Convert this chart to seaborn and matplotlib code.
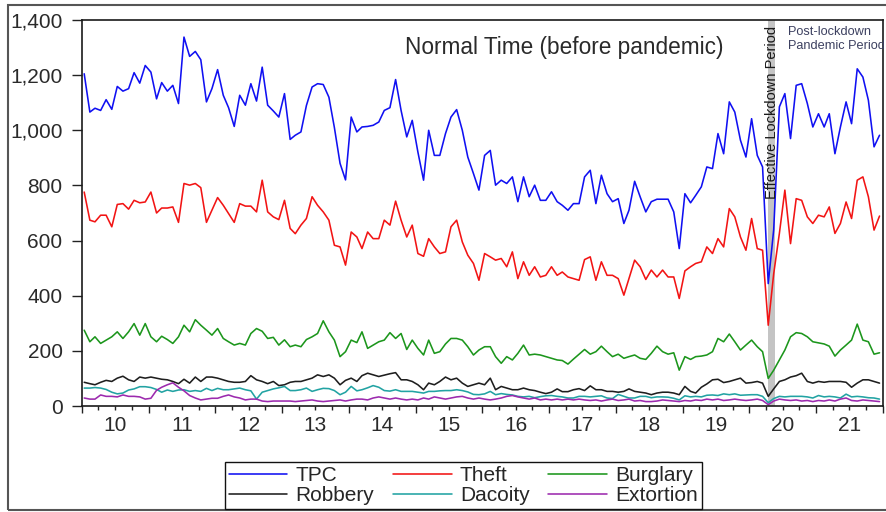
import numpy as np
import pandas as pd
import matplotlib
matplotlib.use("Agg")
import matplotlib.pyplot as plt
import matplotlib.dates as mdates
from matplotlib.ticker import FuncFormatter, NullFormatter
from matplotlib.patches import Rectangle
import seaborn as sns

# Monthly crime counts, Jan 2010 - Dec 2021
months = pd.date_range("2010-01-01", periods=144, freq="MS")

tpc = [1205, 1066, 1080, 1072, 1111, 1076, 1159, 1142, 1151, 1209, 1171, 1235,
       1211, 1114, 1173, 1142, 1163, 1097, 1338, 1268, 1286, 1256, 1103, 1151,
       1220, 1127, 1082, 1014, 1127, 1091, 1169, 1106, 1229, 1091, 1070, 1048,
       1133, 967, 982, 994, 1090, 1157, 1169, 1166, 1120, 1010, 880, 820,
       1048, 994, 1012, 1014, 1018, 1030, 1072, 1082, 1184, 1072, 976, 1036,
       921, 819, 1000, 909, 909, 988, 1048, 1075, 1000, 903, 843, 783,
       909, 927, 801, 819, 807, 831, 741, 831, 759, 801, 746, 746,
       777, 741, 728, 710, 734, 734, 831, 855, 734, 837, 770, 741,
       752, 662, 710, 815, 759, 704, 741, 750, 750, 750, 704, 571,
       770, 737, 764, 795, 867, 861, 988, 915, 1103, 1066, 964, 903,
       1042, 909, 867, 444, 640, 1085, 1133, 970, 1163, 1169, 1097, 1012,
       1060, 1012, 1060, 915, 1012, 1103, 1024, 1223, 1193, 1109, 940, 982]

theft = [776, 674, 668, 692, 692, 650, 731, 734, 714, 746, 737, 740,
         776, 700, 718, 718, 722, 666, 807, 801, 807, 792, 666, 710,
         756, 728, 698, 666, 734, 725, 725, 704, 819, 704, 686, 676,
         746, 644, 625, 656, 680, 759, 728, 704, 674, 583, 577, 511,
         631, 613, 571, 631, 607, 607, 674, 656, 743, 674, 613, 656,
         553, 543, 607, 577, 553, 559, 650, 674, 595, 547, 517, 456,
         553, 541, 529, 535, 505, 559, 462, 523, 474, 505, 468, 474,
         505, 474, 486, 468, 462, 456, 531, 541, 456, 523, 474, 474,
         462, 402, 462, 529, 505, 459, 493, 468, 493, 468, 468, 390,
         490, 505, 517, 523, 577, 553, 607, 577, 716, 686, 613, 565,
         680, 571, 565, 293, 480, 626, 783, 589, 752, 746, 686, 662,
         692, 686, 722, 626, 662, 740, 680, 819, 831, 759, 638, 689]

burglary = [275, 233, 251, 227, 239, 251, 269, 245, 269, 299, 257, 299,
            251, 233, 253, 241, 227, 251, 293, 269, 313, 293, 275, 257,
            281, 245, 233, 221, 227, 221, 263, 281, 271, 245, 249, 221,
            240, 215, 221, 215, 241, 251, 263, 309, 269, 239, 179, 197,
            239, 230, 269, 209, 221, 233, 239, 266, 245, 263, 205, 239,
            209, 185, 239, 191, 197, 225, 245, 245, 239, 215, 185, 203,
            215, 215, 179, 155, 179, 167, 191, 221, 185, 188, 185, 179,
            173, 167, 165, 152, 170, 188, 205, 188, 197, 217, 197, 179,
            188, 173, 179, 185, 173, 169, 191, 217, 197, 188, 193, 130,
            179, 169, 179, 181, 185, 197, 245, 233, 261, 233, 203, 221,
            239, 215, 197, 100, 130, 167, 203, 251, 266, 263, 251, 233,
            229, 225, 217, 181, 203, 221, 239, 297, 239, 233, 188, 193]

robbery = [86, 81, 77, 86, 93, 89, 101, 108, 95, 89, 105, 101,
           105, 101, 97, 95, 89, 81, 97, 83, 105, 89, 105, 105,
           101, 95, 89, 86, 86, 89, 110, 95, 89, 81, 89, 74,
           77, 86, 89, 89, 95, 101, 113, 107, 113, 101, 77, 93,
           101, 89, 110, 119, 113, 107, 112, 117, 121, 95, 95, 89,
           77, 59, 83, 77, 89, 105, 95, 101, 83, 71, 77, 83,
           77, 101, 59, 71, 65, 59, 59, 65, 59, 56, 50, 45,
           50, 62, 52, 52, 59, 63, 56, 73, 59, 59, 53, 53,
           50, 53, 62, 53, 50, 47, 41, 47, 50, 50, 47, 41,
           71, 53, 47, 68, 80, 95, 97, 85, 89, 95, 101, 83,
           85, 89, 83, 35, 62, 89, 95, 105, 110, 119, 89, 83,
           89, 86, 89, 89, 89, 86, 68, 83, 95, 95, 89, 83]

dacoity = [65, 65, 67, 65, 60, 50, 44, 47, 58, 62, 70, 70,
           67, 60, 50, 58, 53, 58, 59, 53, 56, 53, 64, 56,
           64, 59, 59, 62, 65, 59, 55, 25, 50, 56, 62, 66,
           71, 56, 56, 59, 65, 53, 59, 64, 63, 56, 41, 50,
           71, 55, 59, 66, 74, 68, 56, 54, 59, 53, 53, 53,
           50, 47, 53, 53, 55, 56, 56, 59, 56, 51, 42, 41,
           44, 53, 41, 45, 42, 40, 35, 33, 35, 30, 34, 37,
           38, 35, 33, 29, 29, 35, 35, 33, 35, 37, 29, 27,
           42, 35, 29, 29, 35, 35, 30, 33, 33, 32, 28, 22,
           37, 33, 35, 33, 39, 40, 38, 44, 41, 44, 39, 40,
           41, 41, 35, 12, 27, 35, 33, 35, 35, 35, 33, 29,
           38, 33, 35, 33, 29, 43, 33, 35, 33, 30, 29, 25]

extortion = [29, 25, 25, 40, 35, 35, 33, 40, 35, 35, 33, 25,
             28, 57, 68, 77, 84, 68, 55, 38, 29, 22, 25, 28,
             28, 35, 40, 33, 29, 22, 25, 25, 18, 16, 18, 18,
             18, 18, 16, 18, 20, 22, 18, 16, 18, 20, 22, 18,
             22, 25, 25, 22, 29, 33, 29, 25, 29, 25, 22, 25,
             22, 29, 25, 33, 29, 25, 29, 33, 35, 29, 25, 29,
             25, 22, 25, 29, 35, 38, 33, 29, 25, 29, 22, 25,
             22, 25, 22, 25, 22, 25, 22, 20, 22, 18, 22, 25,
             20, 22, 25, 18, 20, 16, 16, 18, 22, 20, 18, 16,
             20, 18, 22, 20, 25, 22, 25, 20, 22, 25, 22, 20,
             22, 25, 20, 5, 18, 25, 22, 20, 22, 18, 20, 16,
             20, 18, 22, 18, 25, 29, 20, 18, 22, 20, 18, 16]

series_names = ["TPC", "Theft", "Burglary", "Robbery", "Dacoity", "Extortion"]
colors = ["#1010f2", "#f21414", "#1c961c", "#1e1e1e", "#22a3a3", "#9c2aae"]
y_ticks = [0, 200, 400, 600, 800, 1000, 1200, 1400]
y_tick_labels = ["0", "200", "400", "600", "800", "1,000", "1,200", "1,400"]
lockdown_start = pd.Timestamp("2020-04-12")
lockdown_end = pd.Timestamp("2020-05-19")

df = pd.DataFrame({"month": months + pd.Timedelta(days=12),
                   "TPC": tpc, "Theft": theft, "Burglary": burglary,
                   "Robbery": robbery, "Dacoity": dacoity, "Extortion": extortion})
long_df = df.melt(id_vars="month", var_name="series", value_name="count")

sns.set_theme(style="ticks")
plt.rcParams["font.family"] = ["Liberation Sans", "DejaVu Sans"]

fig = plt.figure(figsize=(8.86, 5.12), dpi=100)
ax = fig.add_axes([82 / 886, 106 / 512, 801 / 886, 386 / 512])

ax.axvspan(lockdown_start, lockdown_end, color="#c4c4c4", lw=0, zorder=0)

sns.lineplot(data=long_df, x="month", y="count", hue="series",
             hue_order=series_names, palette=colors, linewidth=1.15,
             errorbar=None, ax=ax)

ax.set_xlim(pd.Timestamp("2010-01-01"), pd.Timestamp("2022-01-01"))
ax.set_ylim(0, 1400)
ax.set_xlabel("")
ax.set_ylabel("")
ax.set_yticks(y_ticks, labels=y_tick_labels)

# year boundaries as long ticks, quarters as short ticks, year label mid-year
ax.xaxis.set_major_locator(mdates.MonthLocator(bymonth=[1]))
ax.xaxis.set_major_formatter(NullFormatter())
ax.xaxis.set_minor_locator(mdates.MonthLocator(bymonth=[4, 7, 10]))
ax.xaxis.set_minor_formatter(FuncFormatter(
    lambda v, pos: "%02d" % (mdates.num2date(v).year % 100) if mdates.num2date(v).month == 7 else ""))

ax.tick_params(axis="x", which="major", length=5, width=1, color="#222222")
ax.tick_params(axis="x", which="minor", length=3, width=1, color="#222222",
               labelsize=15, labelcolor="#2a2a2a", pad=4)
ax.tick_params(axis="y", length=7, width=1, color="#222222",
               labelsize=15, labelcolor="#2a2a2a", pad=7)
for sp in ax.spines.values():
    sp.set_linewidth(1.2)
    sp.set_color("#1a1a1a")

ax.text(0.403, 0.930, "Normal Time (before pandemic)", transform=ax.transAxes,
        fontsize=16.3, color="#2a2a2a", ha="left", va="center")
ax.text(0.861, 0.537, "Effective Lockdown Period", transform=ax.transAxes,
        fontsize=10.5, color="#1a1a1a", rotation=90, ha="center", va="bottom")
ax.text(0.881, 0.985, "Post-lockdown\nPandemic Period", transform=ax.transAxes,
        fontsize=9.2, color="#3c4060", ha="left", va="top", linespacing=1.25,
        clip_on=False)

handles, labels = ax.get_legend_handles_labels()
ax.get_legend().remove()
order = [0, 3, 1, 4, 2, 5]
leg = fig.legend([handles[i] for i in order], [labels[i] for i in order],
                 loc="center", bbox_to_anchor=(0.523, 0.052), ncol=3,
                 fontsize=15, frameon=True, fancybox=False, framealpha=1,
                 edgecolor="#111111", handlelength=2.8, handletextpad=0.4,
                 columnspacing=0.9, labelspacing=0.05, borderpad=0.2,
                 borderaxespad=0)
leg.get_frame().set_linewidth(1.0)

# outer frame around the whole graphic
fig.add_artist(Rectangle((8 / 886, 2 / 512), 1.1, 1 - 7 / 512,
                         transform=fig.transFigure, fill=False,
                         edgecolor="#555555", lw=1.5, clip_on=False))

fig.savefig("out.png", dpi=100)
plt.close(fig)
